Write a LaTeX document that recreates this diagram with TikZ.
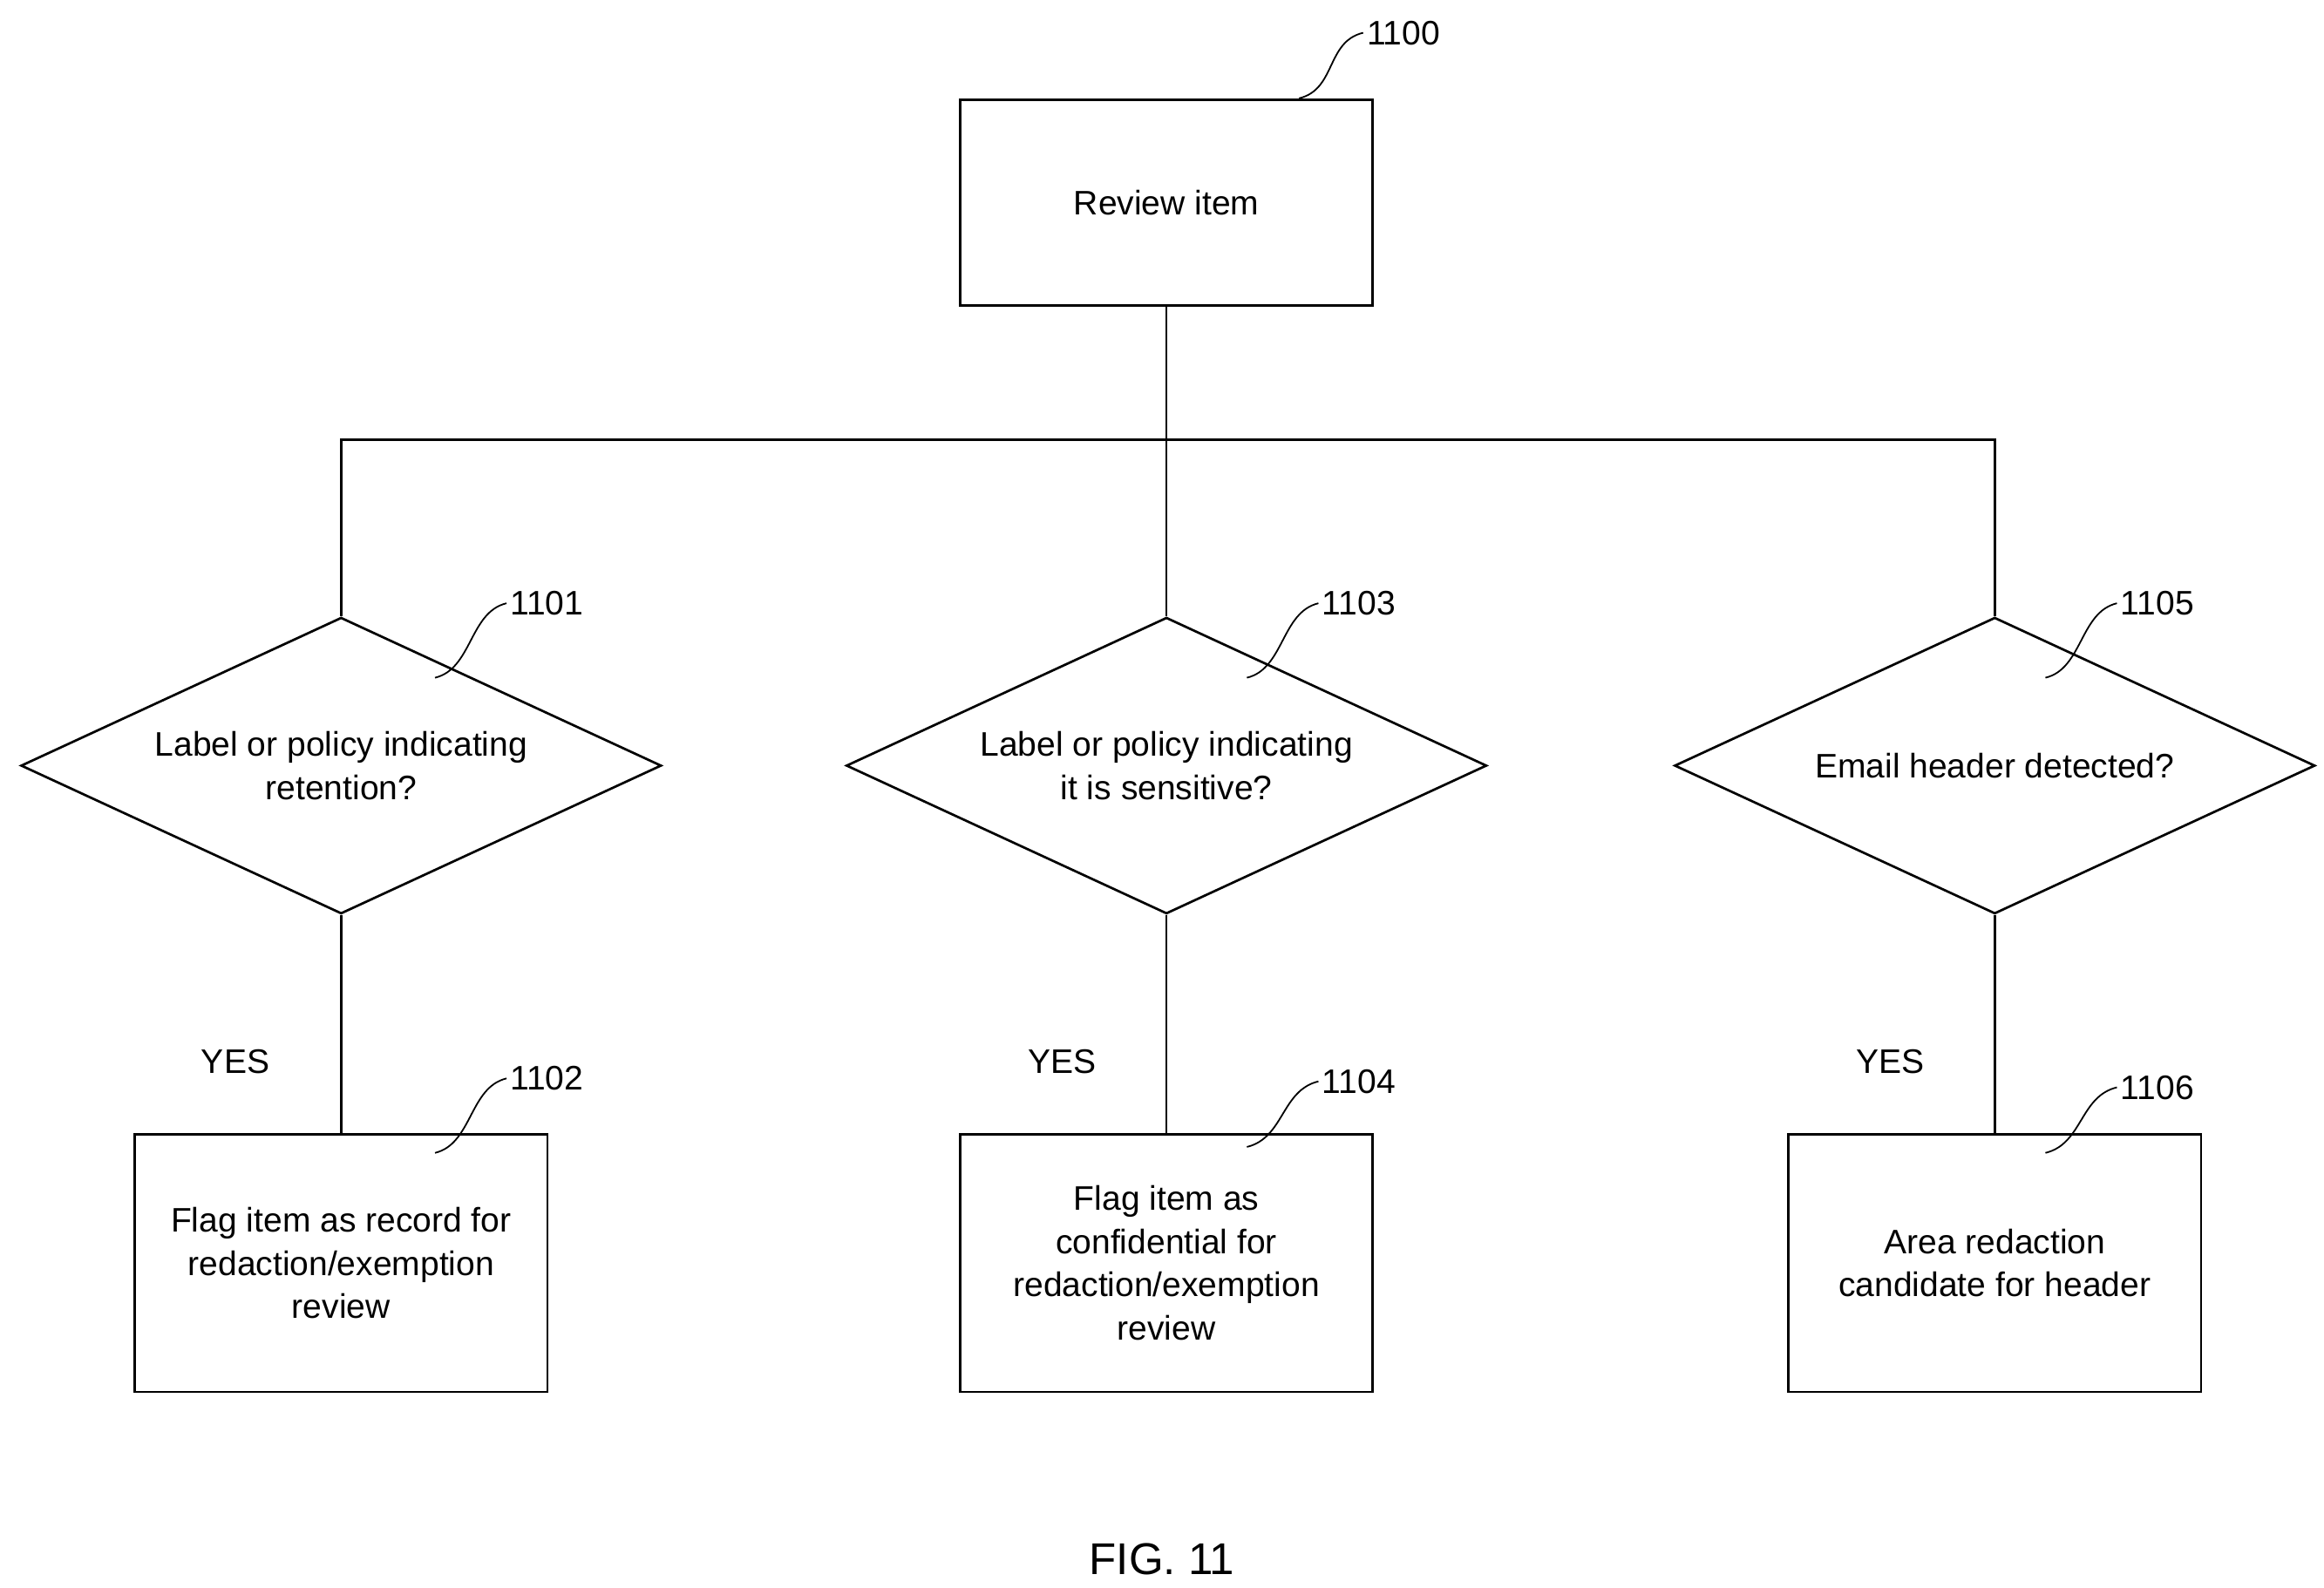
\documentclass[tikz,border=0pt]{standalone}
\usepackage{fontspec}
\setmainfont{Liberation Sans}
\usetikzlibrary{shapes.geometric, positioning}

\begin{document}
\begin{tikzpicture}[
  x=0.02cm, y=-0.02cm,
  line width=0.9pt,
  box/.style  = {rectangle, draw, minimum width=5.54cm, minimum height=3.46cm,
                 align=center, font=\fontsize{13}{16.5}\selectfont},
  top/.style  = {box, minimum height=2.76cm},
  dec/.style  = {diamond, draw, aspect=2.15, minimum width=8.6cm, minimum height=3.98cm,
                 inner sep=0pt, align=center, font=\fontsize{13}{16.5}\selectfont},
  yes/.style  = {font=\fontsize{13}{15}\selectfont},
  ref/.style  = {anchor=west, inner sep=1pt, font=\fontsize{13}{15}\selectfont},
  sq/.style   = {line width=0.6pt}
]
\useasboundingbox (0,0) rectangle (1560,1066);

\node[top] (rev) at (783,136) {Review item};
\coordinate (bus) at (783,295);

\node[dec] (d1) at (229,514) {Label or policy indicating\\retention?};
\node[dec] (d2) at (783,514) {Label or policy indicating\\it is sensitive?};
\node[dec] (d3) at (1339,514) {Email header detected?};

\node[box] (b1) at (229,848) {Flag item as record for\\redaction/exemption\\review};
\node[box] (b2) at (783,848) {Flag item as\\confidential for\\redaction/exemption\\review};
\node[box] (b3) at (1339,848) {Area redaction\\candidate for header};

\node[yes] (y1) at (158,713) {YES};
\node[yes] (y2) at (713,713) {YES};
\node[yes] (y3) at (1269,713) {YES};

\draw (rev) -- (d2);
\draw (d1.north) |- (bus) -| (d3.north);
\draw (d1) -- (b1);
\draw (d2) -- (b2);
\draw (d3) -- (b3);

% reference numerals
\foreach \n/\sx/\sy/\ex/\ey in {1100/872/66/915/22, 1101/292/455/340/405,
  1103/837/455/885/405, 1105/1373/455/1421/405, 1102/292/774/340/724,
  1104/837/770/885/726, 1106/1373/774/1421/730}{
  \coordinate (s\n) at (\sx,\sy);
  \node[ref] (r\n) at (\ex,\ey) {\n};
  \draw[sq] (s\n) .. controls +(25,-6) and +(-25,6) .. (r\n.west);
}

\node[font=\fontsize{17}{20}\selectfont] (fig) at (780,1047) {FIG. 11};
\end{tikzpicture}
\end{document}
